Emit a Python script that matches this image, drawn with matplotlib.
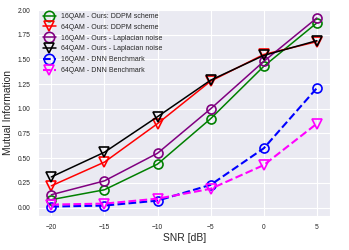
import matplotlib
matplotlib.use("Agg")
import matplotlib.pyplot as plt
import seaborn as sns

sns.set_style("darkgrid")
plt.rcParams['font.family'] = ['Liberation Sans', 'DejaVu Sans']

# SNR points
snr = [-20, -15, -10, -5, 0, 5]

# Mutual information per scheme
mi_16_ddpm = [0.08, 0.18, 0.44, 0.90, 1.43, 1.87]
mi_64_ddpm = [0.22, 0.46, 0.85, 1.28, 1.55, 1.68]
mi_16_lap = [0.13, 0.27, 0.55, 1.00, 1.48, 1.92]
mi_64_lap = [0.31, 0.56, 0.92, 1.29, 1.54, 1.69]
mi_16_dnn = [0.01, 0.02, 0.07, 0.23, 0.60, 1.21]
mi_64_dnn = [0.03, 0.04, 0.09, 0.19, 0.43, 0.85]

fig = plt.figure(figsize=(3.49, 2.5), dpi=100)
ax = fig.add_axes([0.109, 0.136, 0.837, 0.83])

ms = 6.5
mew = 1.2
ax.plot(snr, mi_16_ddpm, color="green", marker="o", mfc="none", ms=ms, mew=mew, lw=1.1,
        label="16QAM - Ours: DDPM scheme")
ax.plot(snr, mi_64_ddpm, color="red", marker="v", mfc="none", ms=ms, mew=mew, lw=1.1,
        label="64QAM - Ours: DDPM scheme")
ax.plot(snr, mi_16_lap, color="purple", marker="o", mfc="none", ms=ms, mew=mew, lw=1.1,
        label="16QAM - Ours - Laplacian noise")
ax.plot(snr, mi_64_lap, color="black", marker="v", mfc="none", ms=ms, mew=mew, lw=1.1,
        label="64QAM - Ours - Laplacian noise")
ax.plot(snr, mi_16_dnn, color="blue", marker="o", mfc="none", ms=ms, mew=mew, lw=1.5,
        linestyle="--", label="16QAM - DNN Benchmark")
ax.plot(snr, mi_64_dnn, color="magenta", marker="v", mfc="none", ms=ms, mew=mew, lw=1.5,
        linestyle="--", label="64QAM - DNN Benchmark")

ax.set_xticks(snr)
ax.set_yticks([0, 0.25, 0.5, 0.75, 1.0, 1.25, 1.5, 1.75, 2.0])
ax.tick_params(labelsize=4.8, pad=2)
ax.set_xlabel("SNR [dB]", fontsize=7.4, labelpad=2)
ax.set_ylabel("Mutual Information", fontsize=7.4, labelpad=3)

ax.legend(loc="upper left", fontsize=5, frameon=False, handlelength=2.0,
          borderaxespad=0.25, labelspacing=0.55, handletextpad=0.7, markerscale=1.15)

fig.savefig("out.png", dpi=100)
